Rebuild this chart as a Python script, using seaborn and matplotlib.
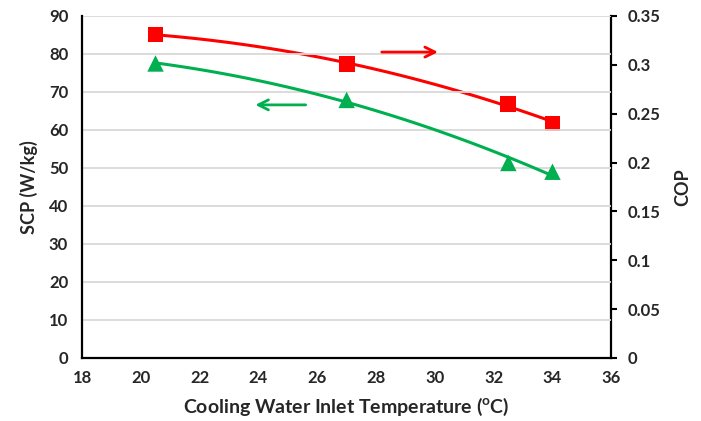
import numpy as np
import pandas as pd
import matplotlib
matplotlib.use("Agg")
import matplotlib.pyplot as plt
import seaborn as sns

# Data
temps = [20.5, 27.0, 32.5, 34.0]
scp = [77.5, 67.9, 51.3, 49.0]
cop = [0.331, 0.301, 0.260, 0.240]
x_ticks = [18, 20, 22, 24, 26, 28, 30, 32, 34, 36]
scp_ticks = [0, 10, 20, 30, 40, 50, 60, 70, 80, 90]
cop_ticks = [0, 0.05, 0.1, 0.15, 0.2, 0.25, 0.3, 0.35]

sns.set_theme(style="white")
plt.rcParams['font.family'] = ['Lato', 'DejaVu Sans']
plt.rcParams['font.weight'] = 'bold'
plt.rcParams['mathtext.fontset'] = 'custom'
plt.rcParams['mathtext.rm'] = 'Lato:bold'
plt.rcParams['mathtext.bf'] = 'Lato:bold'

RED = '#FF0000'
GREEN = '#00B050'
TXT = '#262626'

df = pd.DataFrame({'T': temps, 'SCP': scp, 'COP': cop})

fig = plt.figure(figsize=(7.01, 4.21), dpi=100)
ax = fig.add_axes([0.117, 0.150, 0.755, 0.812])
ax2 = ax.twinx()

# trend lines (2nd order polynomial fits, like spreadsheet trendlines)
xs = np.linspace(min(temps), max(temps), 100)
fit_scp = np.polyval(np.polyfit(temps, scp, 2), xs)
fit_cop = np.polyval(np.polyfit(temps, cop, 2), xs)
trend = pd.DataFrame({'T': xs, 'SCP': fit_scp, 'COP': fit_cop})

sns.lineplot(data=trend, x='T', y='SCP', ax=ax, color=GREEN, lw=2.2, zorder=3)
sns.scatterplot(data=df, x='T', y='SCP', ax=ax, marker='^', s=140, color=GREEN,
                edgecolor='none', zorder=4)
sns.lineplot(data=trend, x='T', y='COP', ax=ax2, color=RED, lw=2.2, zorder=3)
sns.scatterplot(data=df, x='T', y='COP', ax=ax2, marker='s', s=130, color=RED,
                edgecolor='none', zorder=4)

ax.set_xlim(18, 36)
ax.set_ylim(0, 90)
ax2.set_ylim(0, 0.35)
ax.set_xticks(x_ticks)
ax.set_xticklabels([str(t) for t in x_ticks])
ax.set_yticks(scp_ticks)
ax.set_yticklabels([str(t) for t in scp_ticks])
ax2.set_yticks(cop_ticks)
ax2.set_yticklabels([f"{t:g}" for t in cop_ticks])

ax.grid(axis='y', color='#D9D9D9', lw=1.3)
ax.grid(axis='x', visible=False)
ax2.grid(False)
ax.set_axisbelow(True)

for a in (ax, ax2):
    a.spines['top'].set_visible(False)
    for s in ('left', 'bottom', 'right'):
        a.spines[s].set_color('black')
        a.spines[s].set_linewidth(1.6)
ax.spines['right'].set_visible(False)
ax2.spines['left'].set_visible(False)
ax2.spines['bottom'].set_visible(False)

ax.tick_params(axis='y', length=0, pad=10, labelsize=12, colors=TXT)
ax.tick_params(axis='x', length=0, pad=9, labelsize=12, colors=TXT)
ax2.tick_params(axis='y', direction='out', length=4, width=1.5, color='black',
                pad=8, labelsize=12, labelcolor=TXT)

ax.set_xlabel(r'Cooling Water Inlet Temperature ($^{\mathrm{o}}$C)', fontsize=14,
              fontweight='bold', labelpad=7, color=TXT)
ax.set_ylabel('SCP (W/kg)', fontsize=13, fontweight='bold', labelpad=8, color=TXT)
ax2.set_ylabel('COP', fontsize=13, fontweight='bold', labelpad=10, color=TXT)

ax.set_zorder(ax2.get_zorder() + 1)
ax.patch.set_visible(False)

# direction arrows
ax.annotate('', xy=(30.2, 80.5), xytext=(28.1, 80.5),
            arrowprops=dict(arrowstyle='->,head_length=0.6,head_width=0.3', color=RED, lw=2))
ax.annotate('', xy=(23.8, 66.6), xytext=(25.7, 66.6),
            arrowprops=dict(arrowstyle='->,head_length=0.6,head_width=0.3', color=GREEN, lw=2))

fig.savefig('out.png', dpi=100)
